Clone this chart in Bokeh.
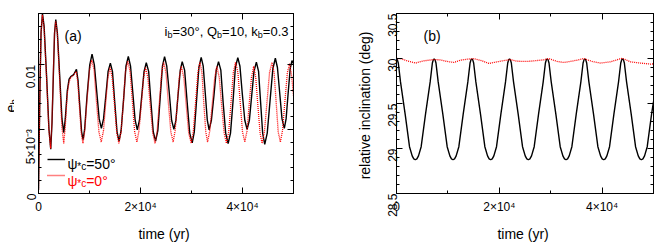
import math
from bokeh.plotting import figure
from bokeh.models import Range1d, FixedTicker, LinearAxis, Label, Legend, LegendItem
from bokeh.layouts import row
from bokeh.embed import file_html
from bokeh.resources import INLINE

FONT = "Liberation Sans"

# ---------------- data: panel (a), e_b versus time ----------------
t_a_black = [0, 150, 300, 500, 780,
             1100, 1600, 2050, 2400,
             2650, 2900, 3150, 3390,
             3700, 4150, 4600, 4960,
             5250, 5650, 6000, 6330, 6900, 7440,
             7750, 8150, 8450, 8740,
             9050, 9500, 10050, 10500,
             10950, 11400, 11900, 12330,
             12750, 13200, 13650, 14090,
             14500, 14950, 15400, 15790,
             16200, 16700, 17150, 17610,
             18050, 18500, 18950, 19370,
             19800, 20250, 20700, 21135,
             21600, 22050, 22500, 22960,
             23400, 23850, 24300, 24720,
             25150, 25650, 26100, 26550,
             26950, 27350, 27800, 28180,
             28650, 29150, 29650, 30140,
             30550, 31000, 31450, 31900,
             32300, 32700, 33100, 33450,
             33900, 34400, 34850, 35300,
             35750, 36200, 36700, 37180,
             37650, 38150, 38600, 39080,
             39500, 39950, 40450, 40900,
             41350, 41800, 42250, 42720,
             43150, 43550, 43950, 44360,
             44850, 45400, 45950, 46440,
             46850, 47300, 47750, 48200,
             48550, 48950, 49350, 49700,
             50000]
e_a_black = [0.0003, 0.0045, 0.0085, 0.0125, 0.0140,
             0.0130, 0.0090, 0.0050, 0.00344,
             0.0055, 0.0090, 0.0125, 0.01353,
             0.0125, 0.0092, 0.0058, 0.00474,
             0.0058, 0.0080, 0.0089, 0.00909, 0.00925, 0.00966,
             0.0088, 0.0065, 0.0048, 0.00419,
             0.0050, 0.0075, 0.0100, 0.01084,
             0.0100, 0.0080, 0.0058, 0.00507,
             0.0058, 0.0076, 0.0095, 0.01014,
             0.0095, 0.0071, 0.0048, 0.00407,
             0.0049, 0.0074, 0.0099, 0.01067,
             0.0099, 0.0078, 0.0057, 0.00495,
             0.0057, 0.0076, 0.0095, 0.01017,
             0.0095, 0.0071, 0.0048, 0.00407,
             0.0049, 0.0074, 0.0099, 0.01064,
             0.0099, 0.0078, 0.0057, 0.00499,
             0.0057, 0.0076, 0.0096, 0.01026,
             0.0096, 0.0071, 0.0047, 0.00394,
             0.0048, 0.0073, 0.0098, 0.01059,
             0.0099, 0.0078, 0.0057, 0.00495,
             0.0057, 0.0076, 0.0096, 0.01026,
             0.0096, 0.0071, 0.0047, 0.00389,
             0.0047, 0.0072, 0.0098, 0.01057,
             0.0099, 0.0078, 0.0057, 0.00499,
             0.0057, 0.0076, 0.0095, 0.01022,
             0.0095, 0.0071, 0.0047, 0.00382,
             0.0047, 0.0072, 0.0097, 0.01052,
             0.0098, 0.0078, 0.0058, 0.00507,
             0.0058, 0.0078, 0.0097, 0.01034,
             0.0101]

t_a_red = [0, 150, 300, 480, 760,
           1080, 1580, 2030, 2380,
           2630, 2880, 3130, 3370,
           3690, 4130, 4580, 4950,
           5250, 5650, 6000, 6300, 6850, 7400,
           7720, 8120, 8420, 8720,
           9050, 9500, 10000, 10450,
           10900, 11350, 11850, 12300,
           12750, 13150, 13600, 14040,
           14450, 14900, 15350, 15750,
           16200, 16650, 17050, 17500,
           17950, 18400, 18850, 19300,
           19700, 20150, 20600, 21000,
           21450, 21900, 22400, 22850,
           23250, 23700, 24150, 24550,
           25000, 25450, 25950, 26400,
           26800, 27200, 27600, 28000,
           28500, 28950, 29450, 29950,
           30350, 30800, 31250, 31650,
           32050, 32400, 32800, 33150,
           33600, 34050, 34550, 34970,
           35450, 35900, 36400, 36850,
           37300, 37750, 38200, 38630,
           39100, 39550, 40000, 40450,
           40900, 41300, 41750, 42200,
           42600, 43000, 43450, 43840,
           44300, 44800, 45300, 45790,
           46200, 46600, 47000, 47420,
           47850, 48300, 48800, 49245,
           49650, 50000]
e_a_red = [0.0003, 0.0045, 0.0085, 0.0124, 0.0139,
           0.0129, 0.0090, 0.0050, 0.0035,
           0.0055, 0.0090, 0.0124, 0.0134,
           0.0124, 0.0090, 0.0052, 0.0039,
           0.0052, 0.0078, 0.0087, 0.0090, 0.0092, 0.0095,
           0.0086, 0.0062, 0.0046, 0.0039,
           0.0048, 0.0072, 0.0096, 0.0104,
           0.0096, 0.0072, 0.0048, 0.0040,
           0.0049, 0.0069, 0.0090, 0.0098,
           0.0090, 0.0069, 0.0047, 0.0039,
           0.0048, 0.0071, 0.0095, 0.0103,
           0.0095, 0.0072, 0.0048, 0.0040,
           0.0049, 0.0069, 0.0090, 0.0098,
           0.0090, 0.0069, 0.0047, 0.0039,
           0.0048, 0.0071, 0.0094, 0.0102,
           0.0094, 0.0071, 0.0048, 0.0040,
           0.0049, 0.0069, 0.0090, 0.0099,
           0.0090, 0.0069, 0.0047, 0.0039,
           0.0048, 0.0071, 0.0094, 0.0102,
           0.0094, 0.0071, 0.0048, 0.0040,
           0.0049, 0.0069, 0.0090, 0.0099,
           0.0090, 0.0069, 0.0047, 0.0039,
           0.0048, 0.0071, 0.0094, 0.0102,
           0.0094, 0.0071, 0.0048, 0.0040,
           0.0049, 0.0069, 0.0090, 0.0099,
           0.0090, 0.0069, 0.0047, 0.0039,
           0.0048, 0.0071, 0.0094, 0.0102,
           0.0094, 0.0071, 0.0048, 0.0040,
           0.0049, 0.0071, 0.0094, 0.0101,
           0.0091, 0.0076]

# ---------------- data: panel (b), relative inclination ----------------
t_b_black = [0, 170, 350, 780, 1690, 2530, 3050, 3365, 3665, 3965, 4280, 4800, 5640, 6550, 6980, 7160,
             7330, 7500, 7680, 8110, 9020, 9860, 10380, 10695, 10995, 11295, 11610, 12130, 12970, 13880, 14310, 14490,
             14660, 14830, 15010, 15440, 16350, 17190, 17710, 18025, 18325, 18625, 18940, 19460, 20300, 21210, 21640, 21820,
             21990, 22160, 22340, 22770, 23680, 24520, 25040, 25355, 25655, 25955, 26270, 26790, 27630, 28540, 28970, 29150,
             29320, 29490, 29670, 30100, 31010, 31850, 32370, 32685, 32985, 33285, 33600, 34120, 34960, 35870, 36300, 36480,
             36650, 36820, 37000, 37430, 38340, 39180, 39700, 40015, 40315, 40615, 40930, 41450, 42290, 43200, 43630, 43810,
             43980, 44150, 44330, 44760, 45670, 46510, 47030, 47345, 47645, 47945, 48260, 48780, 49620, 50000]
i_b_black = [29.995, 29.985, 29.95, 29.74, 29.38, 29.02, 28.918, 28.885, 28.875, 28.885, 28.918, 29.02, 29.38, 29.74, 29.95, 29.985,
             29.995, 29.985, 29.95, 29.74, 29.38, 29.02, 28.918, 28.885, 28.875, 28.885, 28.918, 29.02, 29.38, 29.74, 29.95, 29.985,
             29.995, 29.985, 29.95, 29.74, 29.38, 29.02, 28.918, 28.885, 28.875, 28.885, 28.918, 29.02, 29.38, 29.74, 29.95, 29.985,
             29.995, 29.985, 29.95, 29.74, 29.38, 29.02, 28.918, 28.885, 28.875, 28.885, 28.918, 29.02, 29.38, 29.74, 29.95, 29.985,
             29.995, 29.985, 29.95, 29.74, 29.38, 29.02, 28.918, 28.885, 28.875, 28.885, 28.918, 29.02, 29.38, 29.74, 29.95, 29.985,
             29.995, 29.985, 29.95, 29.74, 29.38, 29.02, 28.918, 28.885, 28.875, 28.885, 28.918, 29.02, 29.38, 29.74, 29.95, 29.985,
             29.995, 29.985, 29.95, 29.74, 29.38, 29.02, 28.918, 28.885, 28.875, 28.885, 28.918, 29.02, 29.38, 29.52]

t_b_red = [0, 780, 2080, 3700, 5320, 7260, 8560, 9860, 11150, 12450, 13750, 15040,
           16670, 17960, 19590, 20880, 22180, 23480, 25430, 26720, 28660, 29630,
           31260, 32550, 34500, 36440, 38070, 39690, 41630, 43910, 45530, 47470, 49420, 50000]
i_b_red = [30.0, 29.999, 29.974, 29.949, 29.974, 29.988, 29.985, 29.967, 29.956, 29.981, 29.992, 29.999,
           29.974, 29.945, 29.963, 29.977, 29.988, 29.970, 29.967, 29.974, 29.985, 29.999,
           29.967, 29.956, 29.974, 29.999, 29.967, 29.949, 29.963, 30.003, 29.963, 29.949, 29.938, 29.94]

# ---------------- ticks ----------------
x_ticks = [0, 20000, 40000]
x_minor = [10000, 30000, 50000]
x_labels = ["0", "2×10⁴", "4×10⁴"]
ya_ticks = [0, 0.005, 0.01]
ya_minor = [0.001, 0.002, 0.003, 0.004, 0.006, 0.007, 0.008, 0.009, 0.011, 0.012, 0.013, 0.014]
ya_labels = ["0", "5×10⁻³", "0.01"]
yb_ticks = [28.5, 29.0, 29.5, 30.0, 30.5]
yb_minor = [28.6, 28.7, 28.8, 28.9, 29.1, 29.2, 29.3, 29.4, 29.6, 29.7, 29.8, 29.9,
            30.1, 30.2, 30.3, 30.4]
yb_labels = ["28.5", "29", "29.5", "30", "30.5"]

# Arial / Liberation Sans advance widths (per 1000 em) for laying out rich text
WID = {" ": 278, "(": 333, ")": 333, "*": 389, ",": 278, ".": 278, "=": 584, "°": 400,
       "Q": 778, "a": 556, "b": 556, "c": 500, "e": 556, "i": 222, "k": 500, "ψ": 700}

TOP, BOTTOM = 13, 45   # page pixels above / below the plotting frames
FRAME_BOTTOM = 244 - BOTTOM


def tw(s, size):
    return sum(WID.get(c, 556) for c in s) * size / 1000.0


def rich(p, ax, ay, fx, fy, pieces, px, py, align="left", angle=0.0, color="black"):
    """pieces: (text, size_px, down_shift_px); px,py: page pixel of start/end baseline."""
    total = sum(tw(t, s) for t, s, _ in pieces)
    ca, sa = math.cos(angle), math.sin(angle)
    pos = 0.0 if align == "left" else (-total if align == "right" else -total / 2)
    for t, s, d in pieces:
        ox = (px - fx) + pos * ca + d * sa
        oy = (fy - py) + pos * sa - d * ca
        p.add_layout(Label(x=ax, y=ay, x_offset=ox, y_offset=oy, text=t, angle=angle,
                           text_font=FONT, text_font_size=f"{s}px", text_color=color,
                           text_align="left", text_baseline="alphabetic"))
        pos += tw(t, s)


def style_axis(ax, labels=True):
    ax.axis_line_color = "black"
    ax.axis_line_width = 1
    ax.major_tick_in = 6
    ax.major_tick_out = 0
    ax.minor_tick_in = 3
    ax.minor_tick_out = 0
    ax.major_tick_line_color = "black"
    ax.minor_tick_line_color = "black"
    ax.major_label_text_font = FONT
    ax.major_label_text_font_size = "12px"
    ax.major_label_text_color = "black"
    ax.axis_label_text_font = FONT
    ax.axis_label_text_font_size = "14px"
    ax.axis_label_text_font_style = "normal"
    ax.axis_label_text_color = "black"
    if not labels:
        ax.major_label_text_font_size = "1px"
        ax.major_label_standoff = 0


def make_fig(width, left, right, yr, yticks, yminor, ylabels, ylabel_std):
    p = figure(width=width, height=244, output_backend="svg", toolbar_location=None,
               x_range=Range1d(0, 50000), y_range=yr,
               min_border_left=left, min_border_right=right,
               min_border_top=TOP, min_border_bottom=BOTTOM)
    p.xgrid.grid_line_color = None
    p.ygrid.grid_line_color = None
    p.outline_line_color = "black"
    p.outline_line_width = 1
    xt = FixedTicker(ticks=x_ticks, minor_ticks=x_minor)
    yt = FixedTicker(ticks=yticks, minor_ticks=yminor)
    p.xaxis.ticker = xt
    p.yaxis.ticker = yt
    p.xaxis.major_label_overrides = dict(zip(x_ticks, x_labels))
    p.yaxis.major_label_overrides = dict(zip(yticks, ylabels))
    for a in p.xaxis:
        style_axis(a)
        a.major_label_standoff = 6
        a.axis_label = "time  (yr)"
        a.axis_label_standoff = 9
    for a in p.yaxis:
        style_axis(a)
        a.major_label_orientation = math.pi / 2
        a.major_label_standoff = ylabel_std
    top = LinearAxis(ticker=xt, major_label_overrides={t: "" for t in x_ticks})
    style_axis(top, labels=False)
    p.add_layout(top, "above")
    rt = LinearAxis(ticker=yt, major_label_overrides={t: "" for t in yticks})
    style_axis(rt, labels=False)
    p.add_layout(rt, "right")
    return p


# ---------------- narrow strip holding the rotated e_b label ----------------
STRIP = 14
pl = figure(width=STRIP, height=244, output_backend="svg", toolbar_location=None, title=None,
            x_axis_type=None, y_axis_type=None,
            x_range=Range1d(0, 1), y_range=Range1d(0, 1),
            min_border_left=0, min_border_right=0, min_border_top=TOP, min_border_bottom=BOTTOM)
pl.grid.grid_line_color = None
pl.outline_line_color = None
rich(pl, 0, 0, 0, FRAME_BOTTOM, [("e", 14, 0), ("b", 10, 3)], 10.7, 118, angle=math.pi / 2)

# ---------------- panel (a) ----------------
pa = make_fig(330 - STRIP, 36 - STRIP, 37, Range1d(0, 0.014), ya_ticks, ya_minor, ya_labels, 7)
rb = pa.line(t_a_black, e_a_black, line_color="black", line_width=1.4)
rr = pa.line(t_a_red, e_a_red, line_color="#ff0000", line_width=1.3, line_dash="1 1")
FXa = 36
rich(pa, 0, 0, FXa, FRAME_BOTTOM, [("(a)", 14, 0)], 62, 41)
rich(pa, 0, 0, FXa, FRAME_BOTTOM,
     [("i", 13, 0), ("b", 9, 3), ("=30°, Q", 13, 0), ("b", 9, 3), ("=10, k", 13, 0),
      ("b", 9, 3), ("=0.3", 13, 0)], 286, 37.3, align="right")
rich(pa, 0, 0, FXa, FRAME_BOTTOM, [("ψ", 14, 0), ("*c", 10, 3), ("=50°", 14, 0)], 65, 169)
rich(pa, 0, 0, FXa, FRAME_BOTTOM, [("ψ", 14, 0), ("*c", 10, 3), ("=0°", 14, 0)], 65, 186,
     color="#ff0000")
leg = Legend(items=[LegendItem(label=" ", renderers=[rb]), LegendItem(label=" ", renderers=[rr])],
             location=(9, 10), padding=0, margin=0, spacing=0, glyph_width=18, glyph_height=16,
             label_width=1, label_height=16, label_standoff=0, label_text_font_size="1px",
             border_line_color=None, background_fill_alpha=0)
pa.add_layout(leg)

# ---------------- panel (b) ----------------
pb = make_fig(324, 66, 1, Range1d(28.5, 30.5), yb_ticks, yb_minor, yb_labels, 4)
pb.line(t_b_black, i_b_black, line_color="black", line_width=1.4)
pb.line(t_b_red, i_b_red, line_color="#ff0000", line_width=1.3, line_dash="1 1")
pb.left[0].axis_label = "relative inclination  (deg)"
pb.left[0].axis_label_standoff = 8
rich(pb, 0, 28.5, 396, FRAME_BOTTOM, [("(b)", 14, 0)], 423, 41)

layout = row(pl, pa, pb)
open("out.html", "w").write(file_html(layout, INLINE))
